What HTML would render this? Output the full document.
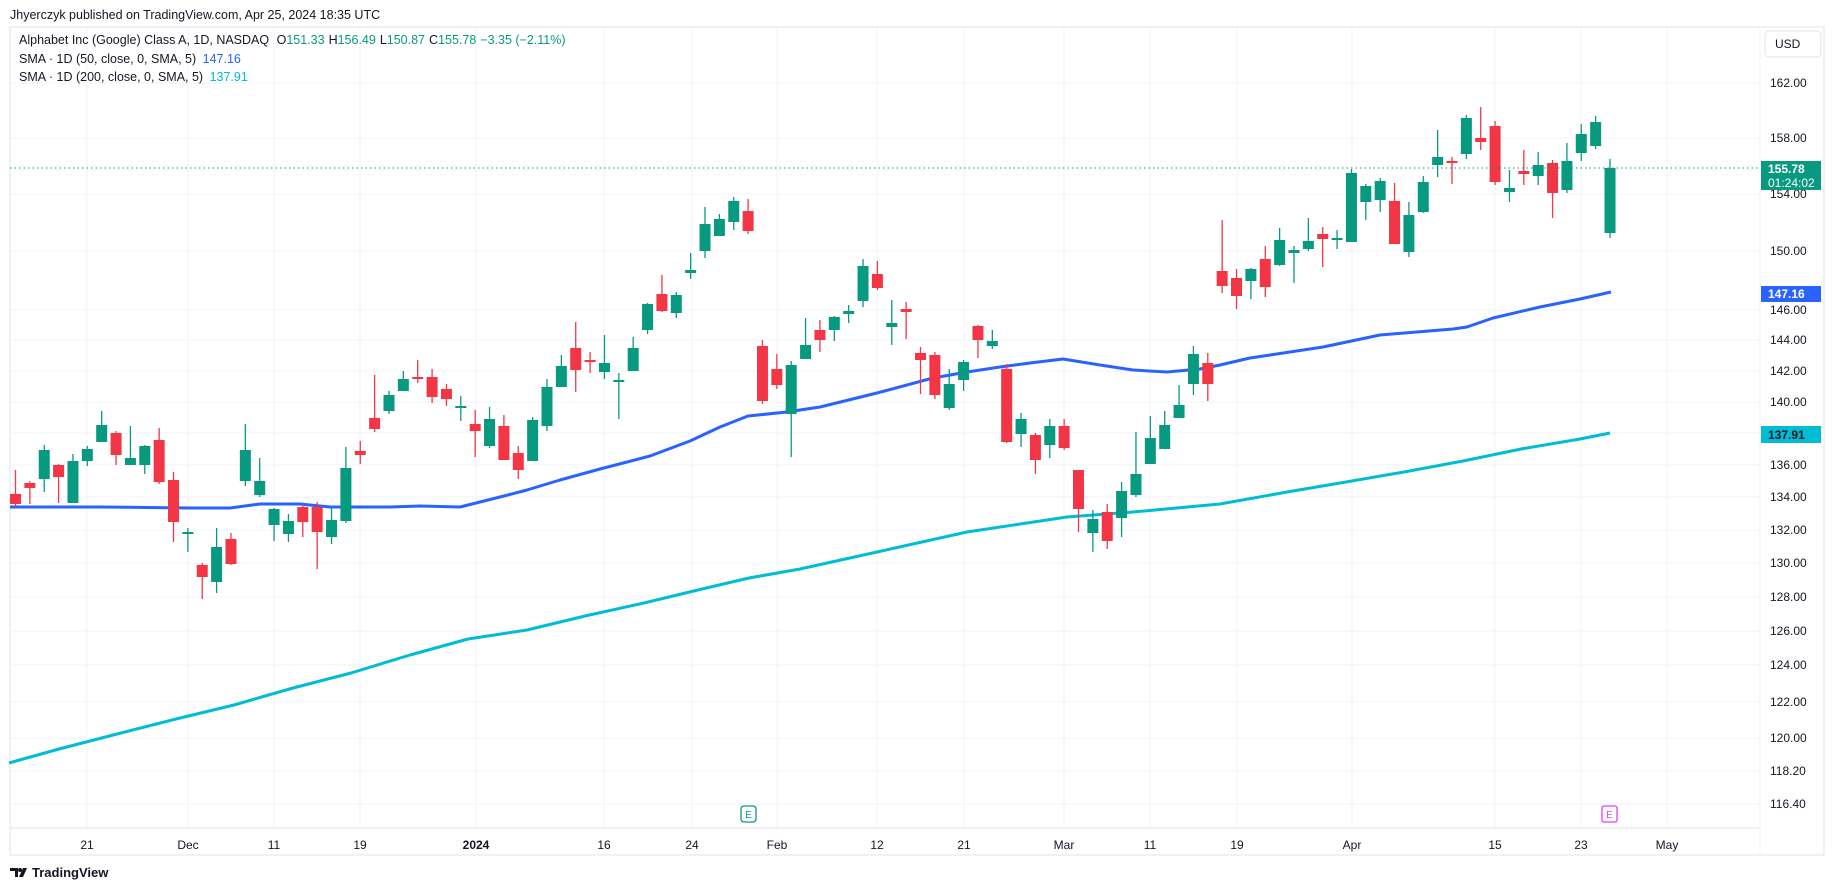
<!DOCTYPE html>
<html><head><meta charset="utf-8"><style>
html,body{margin:0;padding:0;background:#fff;}
body{width:1835px;height:891px;overflow:hidden;position:relative;font-family:"Liberation Sans",sans-serif;}
svg{position:absolute;left:0;top:0;}
</style></head><body>
<svg id="s" width="1835" height="891" viewBox="0 0 1835 891" xmlns="http://www.w3.org/2000/svg" font-family="Liberation Sans, sans-serif">
<rect x="0" y="0" width="1835" height="891" fill="#fff"/>
<text x="10" y="19" font-size="12.5" fill="#131722">Jhyerczyk published on TradingView.com, Apr 25, 2024 18:35 UTC</text>
<rect x="10" y="27" width="1814" height="828" fill="none" stroke="#e0e3eb" stroke-width="1"/>
<g id="grid" stroke="#f0f3fa" stroke-width="1"></g>
<line x1="10" y1="828" x2="1760" y2="828" stroke="#e0e3eb"/>
<line x1="1760" y1="27" x2="1760" y2="855" stroke="#f0f3fa"/>
<g id="ma"></g>
<g id="c"></g>
<line x1="10" y1="168" x2="1760" y2="168" stroke="#089981" stroke-dasharray="1.5,3" stroke-width="1"/>
<g id="ylab" font-size="12" fill="#131722"></g>
<g id="xlab" font-size="12" fill="#131722" text-anchor="middle"></g>
<rect x="1765" y="31" width="56" height="26" rx="4" fill="#fff" stroke="#e0e3eb"/>
<text x="1775" y="48" font-size="12" fill="#131722">USD</text>
<rect x="1761" y="161" width="60" height="29" fill="#089981"/>
<text x="1768" y="173" font-size="12" fill="#fff" font-weight="bold">155.78</text>
<text x="1768" y="187" font-size="12" fill="#fff">01:24:02</text>
<rect x="1761" y="286" width="60" height="16" fill="#2962ff"/>
<text x="1768" y="298" font-size="12" fill="#fff" font-weight="bold">147.16</text>
<rect x="1761" y="426" width="60" height="17" fill="#00bcd4"/>
<text x="1768" y="439" font-size="12" fill="#131722" font-weight="bold">137.91</text>
<rect x="741" y="806" width="15" height="16" rx="3" fill="#fff" stroke="#089981" stroke-width="1.3"/>
<text x="748.5" y="818" font-size="10" fill="#089981" text-anchor="middle">E</text>
<rect x="1602" y="806" width="15" height="16" rx="2" fill="#fff" stroke="#e040fb" stroke-width="1.3"/>
<text x="1609.5" y="818" font-size="10" fill="#e040fb" text-anchor="middle">E</text>
<text x="19" y="44" font-size="12.5" fill="#131722">Alphabet Inc (Google) Class A, 1D, NASDAQ <tspan dx="4">O</tspan><tspan fill="#089981">151.33</tspan><tspan dx="4">H</tspan><tspan fill="#089981">156.49</tspan><tspan dx="4">L</tspan><tspan fill="#089981">150.87</tspan><tspan dx="4">C</tspan><tspan fill="#089981">155.78</tspan><tspan dx="4" fill="#089981">−3.35 (−2.11%)</tspan></text>
<text x="19" y="63" font-size="12.5" fill="#131722">SMA · 1D (50, close, 0, SMA, 5) <tspan dx="3" fill="#2962ff">147.16</tspan></text>
<text x="19" y="81" font-size="12.5" fill="#131722">SMA · 1D (200, close, 0, SMA, 5) <tspan dx="3" fill="#00bcd4">137.91</tspan></text>
<g transform="translate(10,866)">
<path d="M0 2 h8 v9 h-3 v-6 h-5z M9 11 l4 -9 h4 l-4 9z" fill="#131722"/>
<circle cx="10" cy="4" r="2" fill="#131722"/>
<text x="22" y="11" font-size="13" font-weight="bold" fill="#131722">TradingView</text>
</g>
</svg>
<script>
var NS="http://www.w3.org/2000/svg";
function el(p,t,a,txt){var e=document.createElementNS(NS,t);for(var k in a)e.setAttribute(k,a[k]);if(txt!=null)e.textContent=txt;document.getElementById(p).appendChild(e);}
var ys=[["162.00",83],["158.00",138],["154.00",194],["150.00",251],["146.00",310],["144.00",340],["142.00",371],["140.00",402],["",433],["136.00",465],["134.00",497],["132.00",530],["130.00",563],["128.00",597],["126.00",631],["124.00",665],["122.00",702],["120.00",738],["118.20",771],["116.40",804]];
ys.forEach(function(v){el("grid","line",{x1:10,x2:1760,y1:v[1],y2:v[1]});if(v[0]&&v[0]!="154.00")el("ylab","text",{x:1770,y:v[1]+4},v[0]);});
el("ylab","text",{x:1770,y:198},"154.00");
var xs=[["21",87],["Dec",188],["11",274],["19",360],["2024",476],["16",604],["24",692],["Feb",777],["12",877],["21",964],["Mar",1064],["11",1150],["19",1237],["Apr",1352],["15",1495],["23",1581],["May",1667]];
xs.forEach(function(v){el("grid","line",{x1:v[1],x2:v[1],y1:27,y2:828});var a={x:v[1],y:849};if(v[0]=="2024")a["font-weight"]="bold";el("xlab","text",a,v[0]);});
var d=[
["R",494,504,470,507],["R",483,488,481,504],["G",450,479,445,492],["R",465,477,464,503],["G",461,503,454,503],["G",449,461,446,466],["G",425,442,411,442],["R",433,455,431,465],["G",458,465,426,465],["G",446,465,445,474],
["R",440,482,428,484],["R",480,522,472,542],["G",532,533,528,552],["R",565,577,563,599],["G",547,582,528,593],["R",539,564,533,565],["G",450,481,424,486],["G",481,495,458,497],["G",509,525,508,541],["G",521,534,514,542],
["R",507,522,506,537],["R",507,532,502,569],["G",520,537,506,544],["G",468,521,447,523],["R",451,455,441,464],["R",418,429,375,432],["G",395,411,391,414],["G",379,391,371,391],["R",377,379,360,383],["R",377,397,369,403],
["R",389,399,384,406],["G",406,407,396,421],["R",424,431,410,457],["G",419,446,407,448],["R",426,460,415,460],["R",453,470,446,479],["G",420,461,417,461],["G",387,426,379,431],["G",366,387,355,387],["R",348,370,322,392],
["R",360,361,352,373],["G",363,372,335,379],["G",380,382,373,419],["G",348,371,337,371],["G",304,330,303,334],["R",294,311,275,312],["G",295,313,292,318],["G",270,273,253,279],["G",224,251,207,258],["G",219,236,214,236],
["G",201,222,197,230],["R",211,231,199,234],["R",346,401,340,404],["R",369,385,354,389],["G",365,414,361,457],["G",345,359,318,359],["R",330,340,320,352],["G",317,330,316,341],["G",311,314,305,323],["G",266,301,259,307],
["R",274,288,261,290],["G",323,327,300,345],["R",309,312,302,339],["R",353,360,347,394],["R",355,395,352,399],["G",384,408,369,410],["G",362,380,360,391],["R",326,340,325,358],["G",341,346,330,349],["R",369,442,364,443],
["G",419,434,413,447],["R",435,460,433,474],["G",426,445,419,458],["R",426,448,419,450],["R",470,509,470,532],["G",519,533,510,552],["R",512,541,504,549],["G",491,518,482,537],["G",474,495,432,497],["G",438,464,416,464],
["G",425,449,411,449],["G",405,418,385,418],["G",354,384,346,395],["R",363,384,353,401],["R",271,286,220,293],["R",278,296,269,309],["G",269,281,268,299],["R",259,287,246,297],["G",240,265,228,266],["G",250,253,246,283],
["G",241,249,218,251],["R",234,239,227,267],["G",238,240,230,249],["G",173,242,169,242],["G",186,202,184,220],["G",181,200,178,212],["R",201,244,183,244],["G",215,252,202,257],["G",182,212,176,213],["G",157,165,130,177],
["R",161,163,157,184],["G",118,154,115,159],["R",138,142,107,150],["R",126,182,121,185],["G",188,192,170,202],["R",171,174,150,185],["G",165,176,152,185],["R",163,193,160,218],["G",161,190,143,193],["G",134,153,124,161],
["G",122,146,116,149],["G",168,233,159,238]];
d.forEach(function(c,i){var x=15.5+i*14.365;var col=c[0]=="G"?"#089981":"#f23645";
el("c","line",{x1:x,x2:x,y1:c[3],y2:c[4],stroke:col,"stroke-width":1.3});
var h=Math.max(c[2]-c[1],2);el("c","rect",{x:x-5.5,y:c[1],width:11,height:h,fill:col});});
var m50=[[10,507],[100,507],[190,508],[230,508],[260,504],[300,504],[330,507],[390,507],[420,506],[460,507],[500,497],[527,490],[560,480],[600,469],[650,456],[690,441],[720,427],[748,416],[787,412],[800,410],[820,407],[877,393],[933,378],[967,372],[1000,367],[1030,363],[1063,359],[1100,365],[1133,370],[1167,372],[1200,369],[1220,365],[1250,358],[1323,347],[1380,335],[1453,329],[1467,327],[1493,318],[1540,307],[1580,299],[1611,292]];
var m200=[[9,763],[59,749],[117,734],[176,719],[234,705],[293,688],[351,673],[410,655],[468,639],[527,630],[585,616],[644,603],[702,589],[749,578],[800,569],[877,552],[967,532],[1067,517],[1133,512],[1220,504],[1287,492],[1346,482],[1404,472],[1463,461],[1521,449],[1580,439],[1610,433]];
function pl(p){return p.map(function(q){return q.join(",")}).join(" ");}
el("ma","polyline",{points:pl(m200),fill:"none",stroke:"#00bcd4","stroke-width":3,"stroke-linejoin":"round"});
el("ma","polyline",{points:pl(m50),fill:"none",stroke:"#2962ff","stroke-width":3,"stroke-linejoin":"round"});
</script>
</body></html>
